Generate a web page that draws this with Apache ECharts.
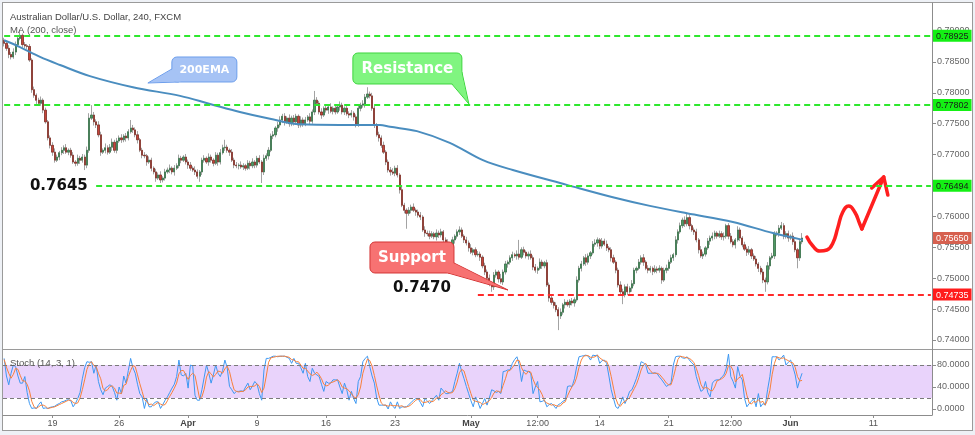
<!DOCTYPE html>
<html><head><meta charset="utf-8">
<script src="https://cdn.jsdelivr.net/npm/echarts@6/dist/echarts.min.js"></script>
<style>
html,body{margin:0;padding:0;background:#eef1f6;}
#frame{position:absolute;left:2px;top:2px;width:969px;height:427px;background:#fff;border:1px solid #9a9a9a;}
#sep{position:absolute;left:3px;top:349px;width:969px;height:1px;background:#9a9a9a;}
#chart{position:absolute;left:0;top:0;width:975px;height:435px;}
</style></head><body>
<div id="frame"></div><div id="sep"></div><div id="chart"></div>
<script>
// ---------- DATA (prices in pips, 1 pip = 0.0001) ----------
const firstOpen = 7885;
const closes = [
7880,7872,7862,7858,7866,7878,7888,7893,7878,7876,
7875,7853,7805,7796,7788,7783,7788,7772,7753,7727,
7715,7704,7691,7696,7703,7707,7711,7704,7707,7699,
7688,7686,7694,7691,7696,7683,7707,7759,7764,7753,
7748,7732,7704,7707,7711,7704,7712,7720,7707,7722,
7727,7724,7730,7727,7737,7743,7740,7732,7724,7707,
7699,7698,7688,7691,7678,7672,7662,7667,7659,7662,
7672,7675,7678,7672,7678,7682,7694,7691,7696,7688,
7683,7678,7675,7672,7665,7672,7691,7694,7688,7696,
7691,7686,7699,7688,7703,7711,7712,7707,7704,7691,
7683,7682,7683,7680,7682,7678,7686,7682,7688,7683,
7694,7688,7672,7694,7698,7707,7730,7732,7743,7748,
7756,7762,7753,7759,7750,7759,7753,7762,7748,7756,
7750,7756,7761,7754,7769,7788,7783,7769,7764,7775,
7772,7777,7770,7775,7769,7777,7780,7769,7775,7766,
7764,7767,7761,7748,7775,7780,7782,7793,7798,7795,
7775,7748,7732,7727,7715,7704,7688,7675,7672,7670,
7678,7667,7643,7618,7610,7605,7610,7615,7610,7607,
7602,7599,7578,7573,7572,7568,7572,7567,7573,7570,
7575,7562,7557,7552,7549,7562,7568,7575,7578,7568,
7562,7557,7549,7542,7546,7538,7539,7534,7520,7510,
7500,7491,7486,7505,7510,7499,7494,7510,7523,7526,
7533,7538,7536,7539,7534,7546,7542,7536,7539,7533,
7518,7513,7516,7526,7520,7525,7489,7468,7461,7456,
7449,7439,7445,7457,7461,7457,7463,7460,7465,7497,
7516,7523,7533,7526,7536,7541,7555,7557,7562,7552,
7560,7555,7549,7546,7533,7526,7513,7489,7478,7473,
7486,7478,7484,7491,7513,7516,7526,7533,7526,7516,
7513,7516,7511,7515,7513,7516,7497,7513,7516,7526,
7533,7538,7562,7575,7585,7594,7588,7598,7585,7578,
7575,7562,7546,7536,7539,7549,7560,7565,7568,7573,
7568,7572,7567,7568,7585,7568,7559,7554,7562,7578,
7565,7554,7547,7542,7546,7536,7531,7523,7516,7510,
7497,7494,7520,7533,7536,7572,7573,7581,7585,7568,
7572,7565,7568,7559,7546,7533,7559,7565
];
const upperWicks = [
4,3,5,4,6,5,4,9,3,4, 3,4,3,5,3,4,6,3,4,3, 4,5,6,4,3,5,4,6,3,4, 5,3,6,4,5,4,6,8,16,5,
4,6,5,3,7,4,5,6,4,5, 4,6,3,5,4,13,5,4,6,3, 4,5,3,6,4,3,5,4,6,3, 5,4,6,3,5,4,6,4,3,5,
4,5,3,6,4,3,4,5,3,6, 4,3,5,4,6,5,12,4,3,5, 4,5,3,6,4,3,5,4,6,3, 4,5,3,6,4,5,4,6,3,5,
6,4,5,3,6,4,5,4,3,6, 4,5,3,6,4,15,5,4,6,3, 5,4,6,3,5,4,6,4,3,5, 4,5,3,4,5,4,6,5,11,4,
5,4,3,5,4,6,3,4,5,6, 4,5,3,6,4,3,5,4,6,3, 4,5,3,6,4,5,4,3,6,4, 5,3,4,6,4,5,3,4,6,4,
3,5,4,6,3,4,5,4,3,5, 4,6,3,5,4,3,8,4,5,3, 4,5,3,6,23,4,5,3,4,6, 4,5,3,6,4,3,5,4,6,3,
5,4,6,3,5,4,3,5,4,6, 4,5,3,6,4,3,5,6,4,3, 5,4,6,3,4,5,3,4,6,5, 4,5,3,6,4,3,5,4,6,3,
5,4,3,6,4,5,3,4,6,4, 5,3,6,4,5,4,6,7,4,3, 4,5,3,6,4,3,5,4,6,4, 3,5,4,6,3,4,5,4,3,6,
4,3,5,4,6,3,4,5,3,4, 5,4,6,3,5,4,3,5,6,4, 4,5,3,6,4,3,5,8
];
const lowerWicks = [
5,4,6,4,3,5,4,3,5,4, 4,3,5,4,6,3,4,5,3,4, 5,6,4,3,5,4,6,3,5,4, 3,5,4,6,4,8,5,4,3,6,
5,4,6,3,5,4,3,6,4,5, 3,5,4,6,4,3,5,4,6,3, 5,4,6,3,5,4,6,3,5,4, 4,3,5,4,6,3,4,5,3,4,
6,4,3,5,4,9,5,4,3,6, 4,5,3,6,4,3,5,4,6,3, 5,4,6,3,5,4,3,6,4,5, 4,3,18,5,4,6,3,5,4,6,
4,5,6,3,5,4,6,3,5,4, 5,4,3,6,4,5,3,4,6,3, 4,6,3,5,4,3,6,4,5,3, 5,4,6,4,3,5,4,6,3,4,
4,5,3,6,4,3,5,4,6,3, 5,4,6,3,5,25,4,5,3,6, 4,5,3,6,4,5,3,4,6,5, 4,6,3,5,4,3,6,4,5,3,
5,4,6,3,5,4,3,6,4,5, 3,4,8,5,4,6,3,5,4,6, 4,5,3,6,4,3,5,4,6,3, 5,4,6,3,5,4,3,6,4,5,
4,23,5,4,6,3,5,4,6,3, 4,5,3,6,4,5,3,4,6,5, 4,3,5,4,6,3,5,4,6,15, 4,5,3,6,4,5,3,4,6,3,
5,4,6,3,5,4,6,3,5,4, 3,5,4,6,3,4,5,4,6,3, 5,4,6,3,5,4,3,6,4,5, 4,3,5,6,4,5,3,4,6,3,
5,4,3,6,4,5,3,4,6,4, 5,16,4,6,3,5,4,6,3,5, 4,6,3,5,4,17,5,4
];
const stochK = [
92,60,44,65,80,77,60,47,47,59, 30,10,1,2,1,8,13,1,2,1, 3,4,5,8,10,13,14,16,17,15, 4,10,19,30,55,75,86,85,86,65,
80,50,35,26,38,41,44,41,30,16, 40,28,60,47,70,92,75,65,45,28, 22,1,19,4,4,10,13,13,1,8, 16,22,30,38,45,59,89,62,60,65,
38,80,78,25,16,16,35,58,80,65, 47,62,80,65,59,70,89,75,41,35, 28,32,32,33,32,40,47,35,42,50, 45,28,16,71,92,92,94,96,96,95,
96,96,96,94,92,83,92,83,83,75, 65,83,59,50,74,65,62,59,45,32, 50,47,47,53,53,53,40,28,47,35, 16,32,19,10,50,59,86,92,96,77,
60,47,20,7,7,7,7,0,13,5, 1,13,1,4,4,4,8,12,16,19, 19,12,4,19,15,10,15,20,25,16, 38,33,28,28,30,32,50,65,83,68,
55,41,28,15,4,22,13,1,10,19, 7,20,35,33,30,32,28,68,69,71, 71,83,90,95,80,50,71,69,68,65, 28,40,50,13,14,16,4,8,10,6,
1,8,10,14,16,41,42,41,55,77, 95,96,97,98,96,89,98,97,98,83, 88,89,83,60,35,19,4,1,10,22, 10,20,32,35,45,56,70,86,84,80,
65,65,65,66,64,58,53,47,41,44, 47,80,95,96,96,93,92,95,89,84, 80,59,45,32,35,50,30,22,47,52, 53,53,58,62,74,100,59,50,38,77,
60,53,19,4,10,14,19,4,28,4, 10,7,35,59,95,95,95,89,93,98, 80,85,89,77,62,38,53,65
];
const stochD = [
90,76,65,56,63,74,72,61,51,51, 45,33,14,4,1,4,7,7,5,1, 2,3,4,6,8,10,12,14,16,16, 12,10,11,20,35,53,72,82,86,79,
77,65,55,37,33,35,41,42,38,29, 29,28,43,45,59,70,79,77,62,46, 32,17,14,8,9,6,9,12,9,7, 8,15,23,30,38,47,64,70,70,62,
54,61,65,61,40,19,22,36,58,68, 64,58,63,69,68,65,73,78,68,50, 35,32,31,32,32,35,40,41,41,42, 46,41,30,38,60,85,93,94,95,96,
96,96,96,95,94,90,89,86,86,80, 74,74,69,64,61,63,67,62,55,45, 42,43,48,49,51,53,49,40,38,37, 33,28,22,20,26,40,65,79,91,88,
78,61,42,25,11,7,7,5,7,6, 6,6,5,6,3,4,5,8,12,16, 18,17,12,12,13,15,13,15,20,20, 26,29,33,30,29,30,37,49,66,72,
69,55,41,28,16,14,13,12,8,10, 12,15,21,29,33,32,30,43,55,69, 70,75,81,89,88,75,67,63,69,67, 54,44,39,34,26,14,11,9,7,8,
6,5,6,11,13,24,33,41,46,58, 76,89,96,97,97,94,94,95,98,93, 90,87,87,77,59,38,19,8,5,11, 14,17,21,29,37,45,57,71,80,83,
76,70,65,65,65,63,58,53,47,44, 44,57,74,90,96,95,94,93,92,89, 84,74,61,45,37,39,38,34,33,40, 51,53,55,58,65,79,78,70,49,55,
58,63,44,25,11,9,14,12,17,12, 14,7,17,34,63,83,95,93,92,93, 90,88,85,84,76,59,51,52
];
// 200 EMA read at bar positions
const maBars = [0,6.9,15.6,24.3,37.3,56,76.5,89.5,102.5,115.6,128.6,146,163.4,167.8,179.5,193.8,208.2,221.2,244.7,264.7,280.8,296.9,316.9,334.3,347.3];
const maValues = [7885,7874,7858,7845,7827,7809,7795,7782,7769,7758,7749,7748,7748,7745,7738,7719,7691,7675,7651,7631,7617,7605,7591,7573,7562];
// level lines
const levels = [0.78925, 0.77802, 0.76494, 0.74735];
const levelStartBars = [0, 0, 40, 206];
const lastPrice = 0.7565;
// axes
const priceTicks = [0.74,0.745,0.75,0.755,0.76,0.765,0.77,0.775,0.78,0.785,0.79];
const stochTicks = [0, 40, 80];
const tickBars = [21, 50, 80, 110, 140, 170, 203, 232, 259, 289, 316, 342, 378];
const tickTexts = ['19','26','Apr','9','16','23','May','12:00','14','21','12:00','Jun','11'];
// hand drawn arrow (bar, price)
const arrowCurveBars = [349.1,351.7,354.7,357.8,360.4,362.5,364.7,367.3,369.9,372.1,373];
const arrowCurvePrices = [0.75667,0.75521,0.7544,0.75456,0.7557,0.75812,0.76071,0.76168,0.76071,0.75877,0.75796];
const arrowShaftBars = [373, 382.5];
const arrowShaftPrices = [0.75796, 0.76638];
const arrowHeadBars = [377.3, 382.5, 384.3];
const arrowHeadPrices = [0.7646, 0.76638, 0.76346];

// ---------- BUILD ----------
const N = 404;
const cats = Array.from({length: N}, (_, i) => String(i));
const P = v => v / 10000;
const opens = closes.map((c, i) => i === 0 ? firstOpen : closes[i - 1]);
const wickData = closes.map((c, i) => { const o = opens[i]; return [P(o), P(c), P(Math.min(o, c) - lowerWicks[i]), P(Math.max(o, c) + upperWicks[i])]; });
const bodyData = closes.map((c, i) => { const o = opens[i]; return [P(o), P(c), P(Math.min(o, c)), P(Math.max(o, c))]; });
const maData = maBars.map((b, i) => [b, P(maValues[i])]);
const pairs = (xs, ys) => xs.map((x, i) => [x, ys[i]]);
const tickSet = new Set(tickBars);
const yMin = 0.74 - 9 / 6180, yMax = 0.74 + 337 / 6180;
const FONT = 'Liberation Sans';
const boxValues = [levels[0], levels[1], levels[2], lastPrice, levels[3]];
const boxKinds = ['g', 'g', 'g', 'p', 'r'];
const levelColors = ['#2ee82e', '#2ee82e', '#2ee82e', '#ff2a2a'];
const boxStyle = (bg, fg) => ({backgroundColor: bg, color: fg, fontSize: 9, lineHeight: 9, fontFamily: FONT, padding: [2, 3, 1, 3]});

const chart = echarts.init(document.getElementById('chart'), null, {renderer: 'canvas'});
const redStyle = {color: '#ff1f1f', width: 3.5, cap: 'round', join: 'round'};
chart.setOption({
  animation: false,
  backgroundColor: 'transparent',
  grid: [
    {left: 3, right: 43, top: 3, height: 346, outerBoundsMode: 'none'},
    {left: 3, right: 43, top: 349, height: 66, outerBoundsMode: 'none'}
  ],
  xAxis: [
    {type: 'category', gridIndex: 0, data: cats, boundaryGap: true, axisLine: {show: false, onZero: false}, axisTick: {show: false}, axisLabel: {show: false}, splitLine: {show: false}},
    {type: 'category', gridIndex: 1, data: cats, boundaryGap: true,
      axisLine: {show: true, onZero: false, lineStyle: {color: '#8c8c8c'}},
      axisTick: {show: true, alignWithLabel: true, interval: i => tickSet.has(i), length: 3, lineStyle: {color: '#8c8c8c'}},
      axisLabel: {interval: i => tickSet.has(i), margin: 4, color: '#555', fontSize: 9, fontFamily: FONT,
        formatter: v => { const k = tickBars.indexOf(+v); if (k < 0) return ''; const t = tickTexts[k]; return /^[A-Z]/.test(t) ? '{b|' + t + '}' : t; },
        rich: {b: {fontWeight: 'bold', color: '#444', fontSize: 9, fontFamily: FONT}}},
      splitLine: {show: false}},
    {type: 'value', gridIndex: 0, min: -0.5, max: N - 0.5, show: false, axisLine: {onZero: false}, axisTick: {show: false}, axisLabel: {show: false}, splitLine: {show: false}}
  ],
  yAxis: [
    {type: 'value', gridIndex: 0, position: 'right', min: yMin, max: yMax,
      axisLine: {show: true, onZero: false, lineStyle: {color: '#8c8c8c'}}, splitLine: {show: false},
      axisTick: {show: true, customValues: priceTicks, length: 4, lineStyle: {color: '#8c8c8c'}},
      axisLabel: {customValues: priceTicks, formatter: v => v.toFixed(5), color: '#666', fontSize: 9, fontFamily: FONT, margin: 5}},
    {type: 'value', gridIndex: 0, position: 'right', min: yMin, max: yMax, axisLine: {show: false, onZero: false}, axisTick: {show: false}, splitLine: {show: false},
      axisLabel: {customValues: boxValues, margin: 1,
        formatter: v => { let k = 0, best = 1; boxValues.forEach((b, j) => { if (Math.abs(b - v) < best) { best = Math.abs(b - v); k = j; } }); return '{' + boxKinds[k] + '|' + v.toFixed(5) + '}'; },
        rich: {g: boxStyle('#14f014', '#1a1a1a'), r: boxStyle('#ff1c1c', '#ffffff'), p: boxStyle('#d6604f', '#ffffff')}}},
    {type: 'value', gridIndex: 1, position: 'right', min: -10.9, max: 109.1,
      axisLine: {show: true, onZero: false, lineStyle: {color: '#8c8c8c'}}, splitLine: {show: false},
      axisTick: {show: true, customValues: stochTicks, length: 4, lineStyle: {color: '#8c8c8c'}},
      axisLabel: {customValues: stochTicks, formatter: v => v.toFixed(4), color: '#666', fontSize: 9, fontFamily: FONT, margin: 5}}
  ],
  series: [
    {type: 'candlestick', name: 'wick', xAxisIndex: 0, yAxisIndex: 0, data: wickData, barWidth: 1.7, silent: true,
      itemStyle: {color: '#a3a3a3', color0: '#a3a3a3', borderColor: '#a3a3a3', borderColor0: '#a3a3a3', borderWidth: 1}},
    {type: 'candlestick', name: 'body', xAxisIndex: 0, yAxisIndex: 0, data: bodyData, barWidth: 1.7, silent: true,
      itemStyle: {color: '#4f9a64', color0: '#c7443a', borderColor: '#2c6a3e', borderColor0: '#76231a', borderWidth: 0.6},
      markLine: {silent: true, symbol: ['none', 'none'], label: {show: false}, animation: false,
        data: levels.map((lv, k) => [{coord: [String(levelStartBars[k]), lv], lineStyle: {color: levelColors[k], width: 2, type: [6, 4]}}, {coord: [String(N - 1), lv]}])}},
    {type: 'line', name: '200EMA', xAxisIndex: 2, yAxisIndex: 0, data: maData, smooth: 0.35, showSymbol: false, silent: true,
      lineStyle: {color: '#4a8dbf', width: 2}},
    {type: 'line', xAxisIndex: 2, yAxisIndex: 0, data: pairs(arrowCurveBars, arrowCurvePrices), smooth: 0.5, showSymbol: false, silent: true, lineStyle: redStyle},
    {type: 'line', xAxisIndex: 2, yAxisIndex: 0, data: pairs(arrowShaftBars, arrowShaftPrices), showSymbol: false, silent: true, lineStyle: redStyle},
    {type: 'line', xAxisIndex: 2, yAxisIndex: 0, data: pairs(arrowHeadBars, arrowHeadPrices), showSymbol: false, silent: true, lineStyle: redStyle},
    {type: 'line', name: '%K', xAxisIndex: 1, yAxisIndex: 2, data: stochK, showSymbol: false, silent: true,
      lineStyle: {color: '#3d98f2', width: 1},
      markArea: {silent: true, itemStyle: {color: '#e9d3fb'}, data: [[{yAxis: 20}, {yAxis: 80}]]},
      markLine: {silent: true, symbol: ['none', 'none'], label: {show: false}, lineStyle: {color: '#7a7a7a', width: 1, type: [4, 3]}, data: [{yAxis: 80}, {yAxis: 20}]}},
    {type: 'line', name: '%D', xAxisIndex: 1, yAxisIndex: 2, data: stochD, showSymbol: false, silent: true,
      lineStyle: {color: '#f7803c', width: 1}}
  ]
});

// ---------- ANNOTATIONS (anchored to data coordinates) ----------
const toPx = (b, p) => chart.convertToPixel({seriesIndex: 2}, [b, p]);
function callout(tipBar, tipPrice, box, tail, fill, stroke, text, size) {
  const [tx, ty] = toPx(tipBar, tipPrice);
  const pts = tail.map(p => [tx + p[0], ty + p[1]]);
  const cx = (pts[0][0] + pts[1][0] + pts[2][0]) / 3, cy = (pts[0][1] + pts[1][1] + pts[2][1]) / 3;
  const inner = pts.map((p, i) => i === 1 ? [p[0] + (cx - p[0]) * 0.15, p[1] + (cy - p[1]) * 0.15]
    : [p[0] + (p[0] - pts[1][0]) * 0.1 + (cx - p[0]) * 0.1, p[1] + (p[1] - pts[1][1]) * 0.1 + (cy - p[1]) * 0.1]);
  return [
    {type: 'polygon', z: 100, silent: true, shape: {points: pts}, style: {fill: fill, stroke: stroke, lineWidth: 1}},
    {type: 'rect', z: 101, silent: true, shape: {x: tx + box[0], y: ty + box[1], width: box[2], height: box[3], r: 5}, style: {fill: fill, stroke: stroke, lineWidth: 1}},
    {type: 'polygon', z: 102, silent: true, shape: {points: inner}, style: {fill: fill}},
    {type: 'text', z: 103, silent: true, style: {text: text, x: tx + box[0] + box[2] / 2, y: ty + box[1] + box[3] / 2 + 1, align: 'center', verticalAlign: 'middle', fill: '#ffffff', font: 'bold ' + size + 'px "DejaVu Sans"'}}
  ];
}
function dataText(b, p, text, align) {
  const [x, y] = toPx(b, p);
  return {type: 'text', z: 103, silent: true, style: {text: text, x: x, y: y, align: align, verticalAlign: 'middle', fill: '#111', font: 'bold 15px "DejaVu Sans"'}};
}
const labelText = (x, y, t, c, s) => ({type: 'text', z: 110, silent: true, style: {text: t, x: x, y: y, fill: c, font: s + 'px "' + FONT + '"', verticalAlign: 'middle'}});
chart.setOption({graphic: [].concat(
  callout(62.5, 0.781586, [24, -26, 65, 25], [[24, -14], [0, 0], [31, -1]], '#a6c3f5', '#6d9eeb', '200EMA', 11),
  callout(202.1, 0.778188, [-116, -51, 109, 31], [[-17, -20], [0, 0], [-7, -32]], '#80f580', '#3ed43e', 'Resistance', 15),
  callout(219.1, 0.748091, [-138, -48, 84, 31], [[-60, -17], [0, 0], [-54, -27]], '#f77272', '#d33535', 'Support', 15),
  [dataText(11.2, 0.764919, '0.7645', 'left'), dataText(181.7, 0.748414, '0.7470', 'center'),
   labelText(10, 17, 'Australian Dollar/U.S. Dollar, 240, FXCM', '#444', 9.5),
   labelText(10, 30, 'MA (200, close)', '#555', 9.5),
   labelText(10, 363, 'Stoch (14, 3, 1)', '#555', 9.5)]
)});
</script>
</body></html>
